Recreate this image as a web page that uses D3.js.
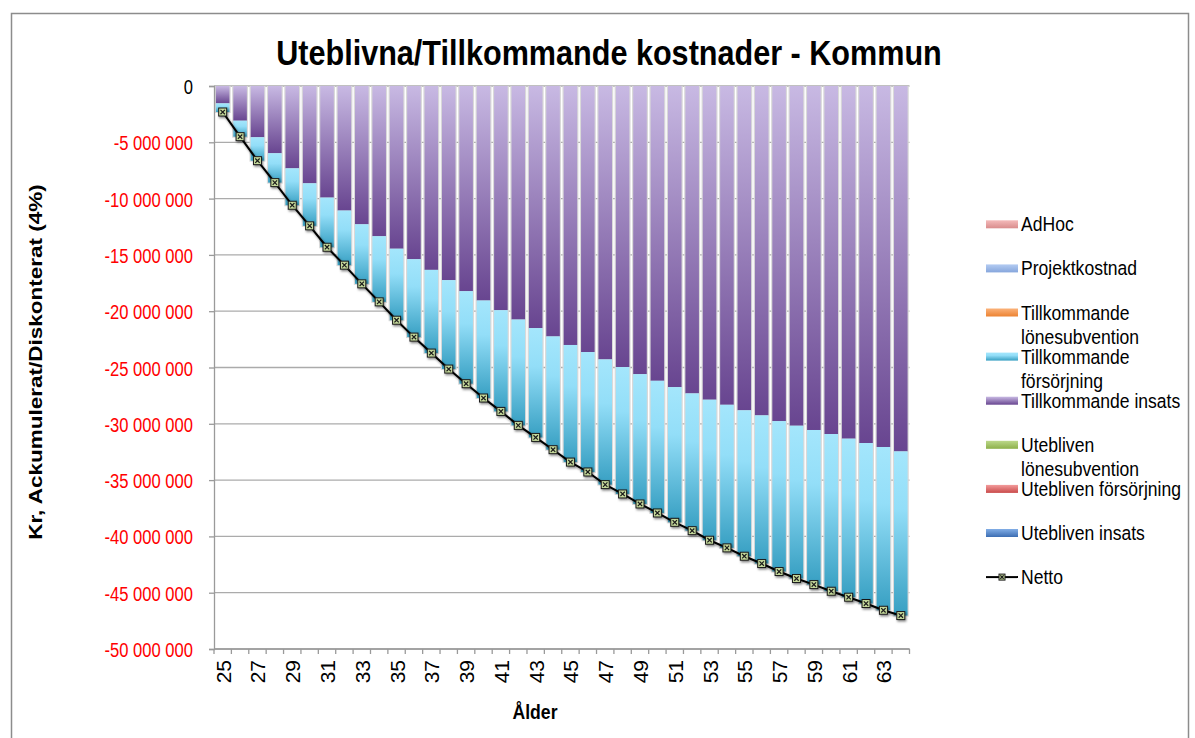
<!DOCTYPE html>
<html>
<head>
<meta charset="utf-8">
<script src="https://cdn.jsdelivr.net/npm/d3@7"></script>
<style>
	body { margin: 0; background: #fff; }
	svg { display: block; font-family: "Liberation Sans", Arial, sans-serif; }
</style>
</head>
<body>
<svg id="chart" width="1195" height="738"></svg>
<script>
// Values (kr, accumulated / discounted)
const ages = [25, 26, 27, 28, 29, 30, 31, 32, 33, 34, 35, 36, 37, 38, 39, 40, 41, 42, 43, 44,
	45, 46, 47, 48, 49, 50, 51, 52, 53, 54, 55, 56, 57, 58, 59, 60, 61, 62, 63, 64];

const insats = [-1540000, -3080000, -4550000, -5970000, -7310000, -8640000, -9910000, -11060000,
	-12280000, -13340000, -14450000, -15380000, -16330000, -17240000, -18220000, -19050000,
	-19910000, -20740000, -21500000, -22240000, -23000000, -23630000, -24280000, -24960000,
	-25590000, -26180000, -26740000, -27300000, -27860000, -28310000, -28800000, -29250000,
	-29760000, -30170000, -30550000, -30910000, -31320000, -31710000, -32060000, -32450000];

const forsorjning = [-770000, -1420000, -2080000, -2610000, -3280000, -3780000, -4410000, -4850000,
	-5290000, -5830000, -6350000, -6920000, -7390000, -7900000, -8220000, -8660000,
	-8990000, -9400000, -9710000, -10060000, -10400000, -10650000, -11120000, -11270000,
	-11530000, -11740000, -12010000, -12190000, -12480000, -12710000, -12960000, -13160000,
	-13360000, -13570000, -13730000, -13960000, -14080000, -14250000, -14500000, -14580000];

const netto = [-2310000, -4500000, -6630000, -8580000, -10590000, -12420000, -14320000, -15910000,
	-17570000, -19170000, -20800000, -22300000, -23720000, -25140000, -26440000, -27710000,
	-28900000, -30140000, -31210000, -32300000, -33400000, -34280000, -35400000, -36230000,
	-37120000, -37920000, -38750000, -39490000, -40340000, -41020000, -41760000, -42410000,
	-43120000, -43740000, -44280000, -44870000, -45400000, -45960000, -46560000, -47030000];

const yTicks = [0, -5000000, -10000000, -15000000, -20000000, -25000000, -30000000,
	-35000000, -40000000, -45000000, -50000000];

const xLabels = [25, 27, 29, 31, 33, 35, 37, 39, 41, 43, 45, 47, 49, 51, 53, 55, 57, 59, 61, 63];

const legendNames = [["AdHoc"], ["Projektkostnad"], ["Tillkommande", "lönesubvention"],
	["Tillkommande", "försörjning"], ["Tillkommande insats"], ["Utebliven", "lönesubvention"],
	["Utebliven försörjning"], ["Utebliven insats"], ["Netto"]];
const legendGrads = ["g-adhoc", "g-projekt", "g-tlon", "g-forsorj", "g-insats", "g-ulon", "g-uforsorj", "g-uinsats", null];

const chartTitle = "Uteblivna/Tillkommande kostnader - Kommun";
const yTitle = "Kr, Ackumulerat/Diskonterat (4%)";
const xTitle = "Ålder";


function whenDocumentLoaded(action) {
	if (document.readyState === "loading") {
		document.addEventListener("DOMContentLoaded", action);
	} else {
		action();
	}
}

whenDocumentLoaded(() => {
	drawChart();
});


function addGradient(defs, id, top, bottom, mid) {
	let g = defs.append("linearGradient")
		.attr("id", id)
		.attr("x1", "0%").attr("y1", "0%")
		.attr("x2", "0%").attr("y2", "100%");
	g.append("stop").attr("offset", "0%").attr("stop-color", top);
	if (mid) {
		g.append("stop").attr("offset", "35%").attr("stop-color", mid);
	}
	g.append("stop").attr("offset", "100%").attr("stop-color", bottom);
}

function drawChart() {
	const svg = d3.select("#chart");
	const left = 214, right = 909.5, top = 86, bottom = 649;

	const defs = svg.append("defs");
	addGradient(defs, "g-insats", "#c8b9e3", "#684590");
	addGradient(defs, "g-forsorj", "#a4e6fc", "#379fc2", "#93def8");
	addGradient(defs, "g-adhoc", "#f4baba", "#d98c8c");
	addGradient(defs, "g-projekt", "#b3cbf2", "#86a6dc");
	addGradient(defs, "g-tlon", "#fbb27a", "#ec8332");
	addGradient(defs, "g-ulon", "#bcd88a", "#8db04a");
	addGradient(defs, "g-uforsorj", "#f39c9c", "#c94a4a");
	addGradient(defs, "g-uinsats", "#82aee6", "#3c6db2");

	defs.append("filter").attr("id", "shadow")
		.attr("x", "-50%").attr("y", "-50%").attr("width", "200%").attr("height", "200%")
		.append("feDropShadow")
		.attr("dx", 1).attr("dy", 1.5).attr("stdDeviation", 1.2)
		.attr("flood-color", "#000").attr("flood-opacity", 0.5);

	// outer frame
	svg.append("rect")
		.attr("x", 11.5).attr("y", 13.5)
		.attr("width", 1177).attr("height", 740)
		.attr("fill", "none")
		.attr("stroke", "#8c8c8c")
		.attr("stroke-width", 1.5);

	const x = d3.scaleBand()
		.domain(ages)
		.range([left, right])
		.paddingInner(0.22)
		.paddingOuter(0.11);
	const bw = x.bandwidth();

	const y = d3.scaleLinear()
		.domain([0, -50000000])
		.range([top, bottom]);

	// gridlines
	svg.append("g")
		.selectAll("line")
		.data(yTicks)
		.join("line")
		.attr("x1", left).attr("x2", right)
		.attr("y1", d => y(d)).attr("y2", d => y(d))
		.attr("stroke", "#ababab")
		.attr("stroke-width", 1.3);

	const rows = ages.map((a, i) => ({age: a, insats: insats[i], forsorjning: forsorjning[i], netto: netto[i]}));

	// soft grey edge round the bars
	svg.append("g")
		.selectAll("rect")
		.data(rows)
		.join("rect")
		.attr("x", d => x(d.age) - 1.2)
		.attr("y", y(0))
		.attr("width", bw + 2.4)
		.attr("height", d => y(d.insats + d.forsorjning) - y(0) + 1)
		.attr("fill", "#d9d9d9");

	// stacked bars: insats on top, försörjning below
	let bars = svg.append("g");
	bars.selectAll("rect.insats")
		.data(rows)
		.join("rect")
		.attr("class", "insats")
		.attr("x", d => x(d.age))
		.attr("y", y(0))
		.attr("width", bw)
		.attr("height", d => y(d.insats) - y(0))
		.attr("fill", "url(#g-insats)");

	bars.selectAll("rect.forsorj")
		.data(rows)
		.join("rect")
		.attr("class", "forsorj")
		.attr("x", d => x(d.age))
		.attr("y", d => y(d.insats))
		.attr("width", bw)
		.attr("height", d => y(d.insats + d.forsorjning) - y(d.insats))
		.attr("fill", "url(#g-forsorj)");

	// y axis
	const fmt = v => d3.format(",")(v).replace(/,/g, " ").replace("−", "-");
	let yAxis = svg.append("g")
		.attr("transform", `translate(${left},0)`)
		.call(d3.axisLeft(y).tickValues(yTicks).tickSize(5).tickFormat(fmt));
	yAxis.select(".domain").attr("stroke", "#9a9a9a").attr("stroke-width", 1.3);
	yAxis.selectAll(".tick line").attr("stroke", "#9a9a9a").attr("stroke-width", 1.3);
	yAxis.selectAll(".tick text")
		.attr("x", 0)
		.attr("dy", "0.36em")
		.attr("transform", "translate(-21,0) scale(0.79,1)")
		.style("font-size", "21px")
		.attr("fill", d => d === 0 ? "#000" : "#ff0000");

	// x axis: ticks between categories, labels on every other age
	let xAxis = svg.append("g")
		.attr("transform", `translate(0,${bottom})`);
	xAxis.append("line")
		.attr("x1", left).attr("x2", right)
		.attr("stroke", "#9a9a9a").attr("stroke-width", 1.3);
	xAxis.selectAll("line.tk")
		.data(ages.concat([null]))
		.join("line")
		.attr("class", "tk")
		.attr("x1", (d, i) => i < ages.length ? x(d) - x.step() * x.paddingInner() / 2 : right)
		.attr("x2", (d, i) => i < ages.length ? x(d) - x.step() * x.paddingInner() / 2 : right)
		.attr("y1", 0).attr("y2", 5)
		.attr("stroke", "#9a9a9a").attr("stroke-width", 1.3);
	xAxis.selectAll("text")
		.data(xLabels)
		.join("text")
		.attr("transform", d => `translate(${x(d) + bw / 2 + 8},11) scale(0.95,1) rotate(-90)`)
		.attr("text-anchor", "end")
		.style("font-size", "21px")
		.attr("fill", "#000")
		.text(d => d);

	// netto line with markers
	const line = d3.line()
		.x(d => x(d.age) + bw / 2)
		.y(d => y(d.netto));
	let net = svg.append("g").attr("filter", "url(#shadow)");
	net.append("path")
		.datum(rows)
		.attr("d", line)
		.attr("fill", "none")
		.attr("stroke", "#000")
		.attr("stroke-width", 2);
	let marks = net.selectAll("g.mk")
		.data(rows)
		.join("g")
		.attr("class", "mk")
		.attr("transform", d => `translate(${x(d.age) + bw / 2},${y(d.netto)})`);
	drawMarker(marks, 4);

	// titles
	svg.append("text")
		.attr("transform", "translate(609,65) scale(0.85,1)")
		.attr("text-anchor", "middle")
		.style("font-size", "36px")
		.style("font-weight", "bold")
		.text(chartTitle);

	svg.append("text")
		.attr("transform", "translate(535,719) scale(0.88,1)")
		.attr("text-anchor", "middle")
		.style("font-size", "20px")
		.style("font-weight", "bold")
		.text(xTitle);

	svg.append("text")
		.attr("transform", "translate(42,362) scale(0.82,1) rotate(-90)")
		.attr("text-anchor", "middle")
		.style("font-size", "22.5px")
		.style("font-weight", "bold")
		.text(yTitle);

	showLegend(svg);
}

function drawMarker(sel, r) {
	sel.append("rect")
		.attr("x", -r).attr("y", -r)
		.attr("width", 2 * r).attr("height", 2 * r)
		.attr("fill", "#c5d99b")
		.attr("stroke", "#1a1a1a")
		.attr("stroke-width", 1);
	sel.append("path")
		.attr("d", `M${-r * 0.55},${-r * 0.55}L${r * 0.55},${r * 0.55}M${r * 0.55},${-r * 0.55}L${-r * 0.55},${r * 0.55}`)
		.attr("stroke", "#1a1a1a")
		.attr("stroke-width", 1.2);
}

function showLegend(svg) {
	const x0 = 986, sw = 32, rowH = 44.1, y0 = 224.3;

	let items = svg.append("g")
		.selectAll("g")
		.data(legendNames)
		.join("g")
		.attr("transform", (d, i) => `translate(${x0},${y0 + i * rowH})`);

	items.each(function(d, i) {
		let item = d3.select(this);
		if (legendGrads[i]) {
			item.append("rect")
				.attr("x", 0).attr("y", -4)
				.attr("width", sw).attr("height", 8)
				.attr("fill", `url(#${legendGrads[i]})`);
		} else {
			item.append("line")
				.attr("x1", 0).attr("x2", sw)
				.attr("stroke", "#000").attr("stroke-width", 2);
			drawMarker(item.append("g").attr("transform", `translate(${sw / 2},0)`), 3);
		}
		item.selectAll("text")
			.data(d)
			.join("text")
			.attr("transform", (t, j) => `translate(${sw + 3},${7 + j * 24.5}) scale(0.9,1)`)
			.style("font-size", "19.5px")
			.attr("fill", "#000")
			.text(t => t);
	});
}
</script>
</body>
</html>
